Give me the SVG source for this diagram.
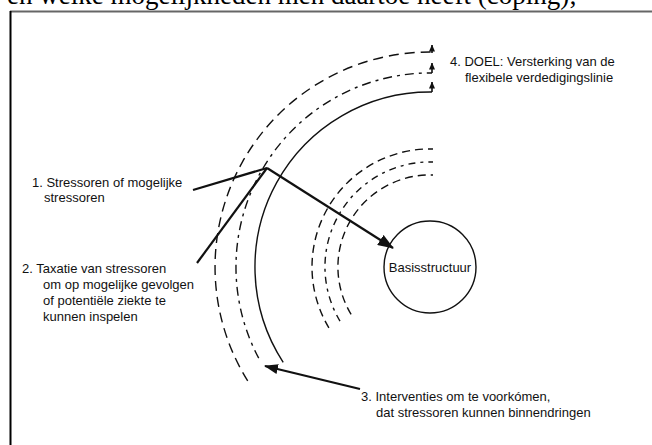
<svg xmlns="http://www.w3.org/2000/svg" width="652" height="445" viewBox="0 0 652 445">
<style>
.lbl{font-family:"Liberation Sans",Arial,sans-serif;font-size:13px;fill:#111}
.arc{fill:none;stroke:#111;stroke-width:1.4}
.dash{stroke-dasharray:10 6}
.dashdot{stroke-dasharray:9 5 3 5}
.sdash{stroke-dasharray:8 5}
.sdashdot{stroke-dasharray:7 5 3 5}
.con{fill:none;stroke:#111;stroke-width:2.2}
.stem{fill:none;stroke:#111;stroke-width:1.6}
</style>
<defs>
<marker id="big" viewBox="0 0 16 12" refX="15" refY="6" markerWidth="16" markerHeight="12" markerUnits="userSpaceOnUse" orient="auto"><path d="M0,0 L16,6 L0,12 z" fill="#111"/></marker>
<marker id="mid" viewBox="0 0 14 10" refX="13" refY="5" markerWidth="14" markerHeight="10" markerUnits="userSpaceOnUse" orient="auto"><path d="M0,0 L14,5 L0,10 z" fill="#111"/></marker>
<marker id="small" viewBox="0 0 7 6" refX="6.5" refY="3" markerWidth="7" markerHeight="6" markerUnits="userSpaceOnUse" orient="auto"><path d="M0,0 L7,3 L0,6 z" fill="#111"/></marker>
</defs>
<rect width="652" height="445" fill="#fff"/>
<text x="7" y="4" font-family="'Liberation Serif','Times New Roman',serif" font-size="27" fill="#000">en welke mogelijkheden men daartoe heeft (coping);</text>
<g id="frame">
<line x1="10" y1="11.5" x2="652" y2="11.5" stroke="#666" stroke-width="2"/>
<line x1="10.5" y1="11" x2="10.5" y2="445" stroke="#000" stroke-width="2"/>
</g>
<g id="lijnen">
<path class="arc dash" d="M247.7 380.9 A215 215 0 0 1 432 52"/>
<path class="arc dashdot" d="M258.7 358.1 A194 194 0 0 1 432 73"/>
<path class="arc" d="M283.2 362.3 A175 175 0 0 1 432 92"/>
<path class="arc sdash" d="M328.9 327.8 A118 118 0 0 1 433 149"/>
<path class="arc sdashdot" d="M340 321.1 A105 105 0 0 1 433 162"/>
<path class="arc sdash" d="M351.1 314.4 A92 92 0 0 1 433 175"/>
</g>
<g id="basis">
<circle cx="430" cy="267" r="46" fill="#fff" stroke="#111" stroke-width="1.4"/>
<text class="lbl" x="430" y="272" text-anchor="middle">Basisstructuur</text>
</g>
<g id="connectors">
<path class="stem" d="M432 53 L432 45" marker-end="url(#small)"/>
<path class="stem" d="M432 73 L432 63" marker-end="url(#small)"/>
<path class="stem" d="M432 92 L432 82" marker-end="url(#small)"/>
<path class="con" d="M193 190 L267 168"/>
<path class="con" d="M197 263 L267 168"/>
<path class="con" d="M267 168 L393 248" marker-end="url(#big)"/>
<path class="con" d="M360 389 L265 366" marker-end="url(#mid)"/>
</g>
<g id="label1">
<text class="lbl" x="32" y="187">1. Stressoren of mogelijke</text>
<text class="lbl" x="44" y="202">stressoren</text>
</g>
<g id="label2">
<text class="lbl" x="22" y="273">2. Taxatie van stressoren</text>
<text class="lbl" x="43" y="289">om op mogelijke gevolgen</text>
<text class="lbl" x="43" y="305">of potentiële ziekte te</text>
<text class="lbl" x="43" y="321">kunnen inspelen</text>
</g>
<g id="label3">
<text class="lbl" x="361" y="401">3. Interventies om te voorkómen,</text>
<text class="lbl" x="376" y="417">dat stressoren kunnen binnendringen</text>
</g>
<g id="label4">
<text class="lbl" x="450" y="66">4. DOEL: Versterking van de</text>
<text class="lbl" x="465" y="82">flexibele verdedigingslinie</text>
</g>
</svg>
